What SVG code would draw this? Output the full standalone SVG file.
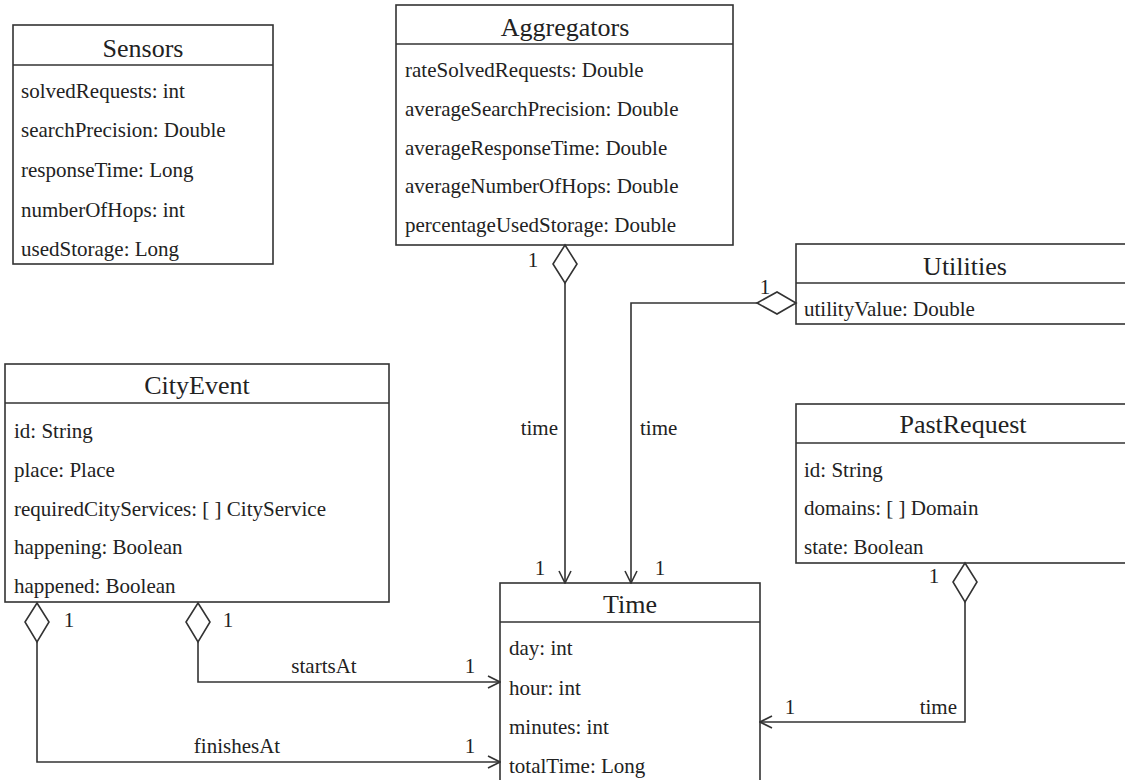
<svg xmlns="http://www.w3.org/2000/svg" width="1125" height="780" viewBox="0 0 1125 780" font-family="Liberation Serif, Times New Roman, serif">
  <style>
    .box { fill: #ffffff; stroke: #333333; stroke-width: 1.6; }
    .sep { stroke: #333333; stroke-width: 1.6; }
    .title { font-size: 26px; text-anchor: middle; fill: #222222; }
    .attr { font-size: 21px; fill: #222222; }
    .lbl { font-size: 21px; fill: #222222; }
    .mid { text-anchor: middle; }
    .end { text-anchor: end; }
    .wire { fill: none; stroke: #333333; stroke-width: 1.6; }
    .dia { fill: #ffffff; stroke: #333333; stroke-width: 1.6; stroke-linejoin: miter; }
  </style>
  <defs>
    <marker id="open-arrow" viewBox="0 0 14 14" refX="13" refY="7" markerWidth="14" markerHeight="14" markerUnits="userSpaceOnUse" orient="auto">
      <path d="M1,1 L13,7 L1,13" fill="none" stroke="#333333" stroke-width="1.6"/>
    </marker>
  </defs>

  <rect width="1125" height="780" fill="#ffffff"/>

  <!-- Sensors -->
  <g id="sensors" font-family="Liberation Serif, serif">
    <rect class="box" x="13" y="25" width="260" height="239"/>
    <line class="sep" x1="13" y1="65" x2="273" y2="65"/>
    <text class="title" x="143" y="57">Sensors</text>
    <text class="attr" x="21" y="98">solvedRequests: int</text>
    <text class="attr" x="21" y="137">searchPrecision: Double</text>
    <text class="attr" x="21" y="177">responseTime: Long</text>
    <text class="attr" x="21" y="217">numberOfHops: int</text>
    <text class="attr" x="21" y="256">usedStorage: Long</text>
  </g>

  <!-- Aggregators -->
  <g id="aggregators" font-family="Liberation Serif, serif">
    <rect class="box" x="396" y="5" width="337" height="240"/>
    <line class="sep" x1="396" y1="44" x2="733" y2="44"/>
    <text class="title" x="565" y="36">Aggregators</text>
    <text class="attr" x="405" y="77">rateSolvedRequests: Double</text>
    <text class="attr" x="405" y="116">averageSearchPrecision: Double</text>
    <text class="attr" x="405" y="155">averageResponseTime: Double</text>
    <text class="attr" x="405" y="193">averageNumberOfHops: Double</text>
    <text class="attr" x="405" y="232">percentageUsedStorage: Double</text>
  </g>

  <!-- Utilities -->
  <g id="utilities" font-family="Liberation Serif, serif">
    <rect class="box" x="796" y="244" width="340" height="80"/>
    <line class="sep" x1="796" y1="283" x2="1136" y2="283"/>
    <text class="title" x="965" y="275">Utilities</text>
    <text class="attr" x="804" y="316">utilityValue: Double</text>
  </g>

  <!-- CityEvent -->
  <g id="city-event" font-family="Liberation Serif, serif">
    <rect class="box" x="5" y="364" width="384" height="238"/>
    <line class="sep" x1="5" y1="403" x2="389" y2="403"/>
    <text class="title" x="197" y="394">CityEvent</text>
    <text class="attr" x="14" y="438">id: String</text>
    <text class="attr" x="14" y="477">place: Place</text>
    <text class="attr" x="14" y="516">requiredCityServices: [ ] CityService</text>
    <text class="attr" x="14" y="554">happening: Boolean</text>
    <text class="attr" x="14" y="593">happened: Boolean</text>
  </g>

  <!-- PastRequest -->
  <g id="past-request" font-family="Liberation Serif, serif">
    <rect class="box" x="796" y="404" width="340" height="159"/>
    <line class="sep" x1="796" y1="443" x2="1136" y2="443"/>
    <text class="title" x="963" y="433">PastRequest</text>
    <text class="attr" x="804" y="477">id: String</text>
    <text class="attr" x="804" y="515">domains: [ ] Domain</text>
    <text class="attr" x="804" y="554">state: Boolean</text>
  </g>

  <!-- Time -->
  <g id="time" font-family="Liberation Serif, serif">
    <rect class="box" x="500" y="583" width="260" height="210"/>
    <line class="sep" x1="500" y1="622" x2="760" y2="622"/>
    <text class="title" x="630" y="613">Time</text>
    <text class="attr" x="509" y="655">day: int</text>
    <text class="attr" x="509" y="695">hour: int</text>
    <text class="attr" x="509" y="734">minutes: int</text>
    <text class="attr" x="509" y="773">totalTime: Long</text>
  </g>

  <!-- Associations (aggregation diamonds at the owner side) -->
  <g id="connectors" font-family="Liberation Serif, serif">
    <!-- Aggregators -> Time -->
    <polyline class="wire" points="565,283 565,583" marker-end="url(#open-arrow)"/>
    <polygon class="dia" points="565,245 577,264 565,283 553,264"/>
    <text class="lbl mid" x="533" y="267">1</text>
    <text class="lbl end" x="558" y="435">time</text>
    <text class="lbl mid" x="540" y="575">1</text>

    <!-- Utilities -> Time -->
    <polyline class="wire" points="757,303 631,303 631,583" marker-end="url(#open-arrow)"/>
    <polygon class="dia" points="796,303 777,314 757,303 777,292"/>
    <text class="lbl mid" x="765" y="294">1</text>
    <text class="lbl" x="640" y="435">time</text>
    <text class="lbl mid" x="660" y="575">1</text>

    <!-- CityEvent startsAt -> Time -->
    <polyline class="wire" points="198,642 198,682 500,682" marker-end="url(#open-arrow)"/>
    <polygon class="dia" points="198,603 210,622 198,642 186,622"/>
    <text class="lbl mid" x="228" y="627">1</text>
    <text class="lbl mid" x="324" y="673">startsAt</text>
    <text class="lbl mid" x="470" y="673">1</text>

    <!-- CityEvent finishesAt -> Time -->
    <polyline class="wire" points="37,642 37,762 500,762" marker-end="url(#open-arrow)"/>
    <polygon class="dia" points="37,603 49,622 37,642 25,622"/>
    <text class="lbl mid" x="69" y="627">1</text>
    <text class="lbl mid" x="237" y="753">finishesAt</text>
    <text class="lbl mid" x="470" y="753">1</text>

    <!-- PastRequest -> Time -->
    <polyline class="wire" points="965,602 965,722 760,722" marker-end="url(#open-arrow)"/>
    <polygon class="dia" points="965,563 977,582 965,602 953,582"/>
    <text class="lbl mid" x="934" y="583">1</text>
    <text class="lbl end" x="957" y="714">time</text>
    <text class="lbl mid" x="790" y="714">1</text>
  </g>
</svg>
